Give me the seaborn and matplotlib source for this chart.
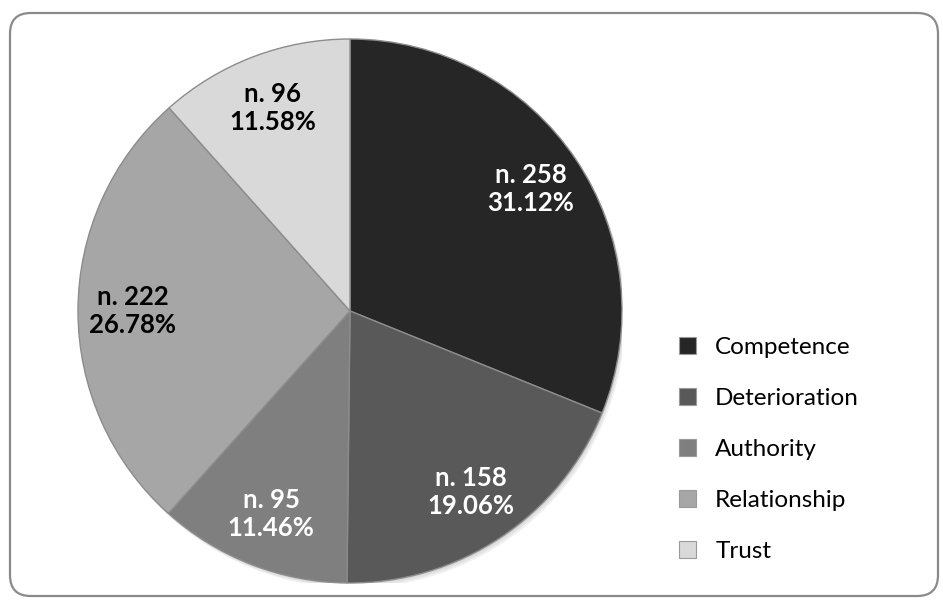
import numpy as np
import matplotlib
matplotlib.use("Agg")
import matplotlib.pyplot as plt
from matplotlib.patches import FancyBboxPatch, Patch, Circle
import seaborn as sns

categories = ["Competence", "Deterioration", "Authority", "Relationship", "Trust"]
counts = [258, 158, 95, 222, 96]
percent_labels = ["31.12%", "19.06%", "11.46%", "26.78%", "11.58%"]
slice_colors = ["#262626", "#595959", "#7f7f7f", "#a6a6a6", "#d9d9d9"]
label_colors = ["white", "white", "white", "black", "black"]

sns.set_theme(style="white")
plt.rcParams["font.family"] = ["Lato", "DejaVu Sans"]
plt.rcParams["text.color"] = "black"
palette = sns.color_palette(slice_colors)

W, H = 943, 601
fig = plt.figure(figsize=(W / 100, H / 100), dpi=100)
fig.patch.set_facecolor("white")

# rounded frame around the whole chart
frame = FancyBboxPatch((10 / W, 5 / H), 928 / W, 583 / H,
                       boxstyle="round,pad=0,rounding_size=0.022",
                       transform=fig.transFigure, facecolor="none",
                       edgecolor="#8a8a8a", linewidth=1.6, zorder=-1,
                       mutation_aspect=W / H)
fig.patches.append(frame)

cx, cy, r = 350, 311, 272
ax = fig.add_axes([(cx - r) / W, (H - cy - r) / H, 2 * r / W, 2 * r / H])
ax.set_facecolor("none")

# soft shadow under the pie
for k, a in enumerate([0.05, 0.05, 0.06]):
    ax.add_patch(Circle((0.004 * (k + 1), -0.006 * (k + 1)), 1.0,
                        facecolor="black", alpha=a, edgecolor="none", zorder=0))

wedges, _ = ax.pie(counts, colors=palette, startangle=90, counterclock=False,
                   radius=1.0,
                   wedgeprops=dict(edgecolor="#8c8c8c", linewidth=1.0))
for w in wedges:
    w.set_zorder(2)

for w, n, pct, tc in zip(wedges, counts, percent_labels, label_colors):
    mid = np.deg2rad((w.theta1 + w.theta2) / 2)
    x, y = 0.80 * np.cos(mid), 0.80 * np.sin(mid)
    ax.text(x, y, f"n. {n}\n{pct}", ha="center", va="center", color=tc,
            fontsize=18.5, fontweight="bold", linespacing=1.2, zorder=3)

ax.set_xlim(-1.0, 1.0)
ax.set_ylim(-1.0, 1.0)
ax.set_aspect("equal")
ax.axis("off")

handles = [Patch(facecolor=c, edgecolor="#9a9a9a", linewidth=0.8) for c in slice_colors]
fig.legend(handles, categories, loc="center left",
           bbox_to_anchor=(667 / W, 1 - 449.5 / H), frameon=False,
           fontsize=17.5, handlelength=0.68, handleheight=0.68,
           handletextpad=0.8, labelspacing=1.24, borderpad=0)

fig.savefig("out.png", dpi=100)
